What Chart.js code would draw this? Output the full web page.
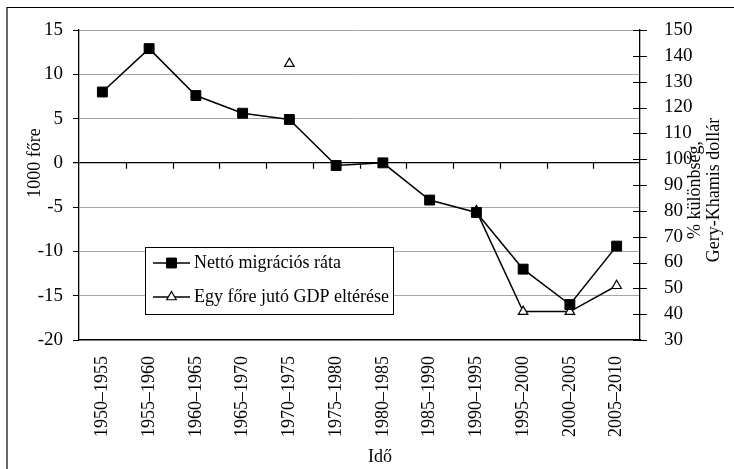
<!DOCTYPE html>
<html>
<head>
<meta charset="utf-8">
<script src="https://cdn.jsdelivr.net/npm/chart.js@4.4.0/dist/chart.umd.min.js"></script>
<style>
  html, body { margin: 0; padding: 0; background: #fff; }
</style>
</head>
<body>
<canvas id="chart" width="734" height="469"></canvas>
<script>
// adatok
const periods = ['1950–1955', '1955–1960', '1960–1965', '1965–1970', '1970–1975', '1975–1980',
                 '1980–1985', '1985–1990', '1990–1995', '1995–2000', '2000–2005', '2005–2010'];
const migration = [8.0, 12.9, 7.6, 5.6, 4.9, -0.3, 0.0, -4.2, -5.6, -12.0, -16.0, -9.4];
const gdpDiff = [null, null, null, null, 137, null, null, null, 80, 41, 41, 51];
const seriesNames = ['Nettó migrációs ráta', 'Egy főre jutó GDP eltérése'];
const leftTitle = '1000 főre';
const rightTitle = ['% különbség,', 'Gery-Khamis dollár'];
const xTitle = 'Idő';

const FONT = '"Liberation Serif", "Times New Roman", serif';

// keret, tengelycímek, jelmagyarázat
const extras = {
    id: 'extras',
    beforeDraw(chart) {
        const ctx = chart.ctx;
        ctx.save();
        ctx.fillStyle = '#fff';
        ctx.fillRect(0, 0, chart.width, chart.height);
        ctx.strokeStyle = '#000';
        ctx.lineWidth = 1.2;
        ctx.beginPath();
        ctx.moveTo(7, chart.height + 5);
        ctx.lineTo(7, 7.5);
        ctx.lineTo(chart.width + 5, 7.5);
        ctx.stroke();
        ctx.restore();
    },
    beforeDatasetsDraw(chart) {
        const ctx = chart.ctx;
        const y = chart.scales.y, y1 = chart.scales.y1;
        const area = chart.chartArea;
        ctx.save();
        ctx.strokeStyle = '#000';
        ctx.lineWidth = 1.2;
        // osztásjelek a nulla vonalon
        const y0 = y.getPixelForValue(0);
        const w = (area.right - area.left) / periods.length;
        ctx.beginPath();
        for (let i = 1; i < periods.length; i++) {
            const px = Math.round(area.left + i * w) + 0.5;
            ctx.moveTo(px, y0);
            ctx.lineTo(px, y0 + 6);
        }
        // jobb tengely osztásjelei (átmennek a tengelyen)
        for (let v = 30; v <= 150; v += 10) {
            const py = Math.round(y1.getPixelForValue(v)) + 0.5;
            ctx.moveTo(area.right - 7, py);
            ctx.lineTo(area.right + 7, py);
        }
        ctx.stroke();
        ctx.restore();
    },
    afterDraw(chart) {
        const ctx = chart.ctx;
        ctx.save();
        ctx.fillStyle = '#000';
        ctx.font = '18px ' + FONT;
        ctx.textAlign = 'center';
        ctx.textBaseline = 'middle';

        // bal cím
        ctx.save();
        ctx.translate(35, 163);
        ctx.rotate(-Math.PI / 2);
        ctx.fillText(leftTitle, 0, 0);
        ctx.restore();

        // jobb cím, két sor
        ctx.save();
        ctx.translate(695, 190);
        ctx.rotate(-Math.PI / 2);
        ctx.fillText(rightTitle[0], 0, 0);
        ctx.fillText(rightTitle[1], 0, 19);
        ctx.restore();

        // x cím
        ctx.fillText(xTitle, 380, 457);

        // jelmagyarázat
        const bx = 145.5, by = 247.5, bw = 248, bh = 67;
        ctx.fillStyle = '#fff';
        ctx.fillRect(bx, by, bw, bh);
        ctx.strokeStyle = '#000';
        ctx.lineWidth = 1;
        ctx.strokeRect(bx, by, bw, bh);

        const rows = [263, 297];
        const mx = 171.5;
        chart.data.datasets.forEach((ds, i) => {
            const ry = rows[i];
            ctx.strokeStyle = '#000';
            ctx.lineWidth = 1.5;
            ctx.beginPath();
            ctx.moveTo(153, ry);
            ctx.lineTo(190, ry);
            ctx.stroke();

            ctx.fillStyle = ds.pointBackgroundColor;
            ctx.lineWidth = ds.pointBorderWidth || 1;
            ctx.beginPath();
            const r = ds.pointRadius;
            if (ds.pointStyle === 'rect') {
                const s = Math.SQRT1_2 * r;
                ctx.rect(mx - s, ry - s, 2 * s, 2 * s);
            } else {
                let rad = 0;
                ctx.moveTo(mx + Math.sin(rad) * r, ry - Math.cos(rad) * r);
                rad += 2 * Math.PI / 3;
                ctx.lineTo(mx + Math.sin(rad) * r, ry - Math.cos(rad) * r);
                rad += 2 * Math.PI / 3;
                ctx.lineTo(mx + Math.sin(rad) * r, ry - Math.cos(rad) * r);
                ctx.closePath();
            }
            ctx.fill();
            ctx.stroke();

            ctx.fillStyle = '#000';
            ctx.textAlign = 'left';
            ctx.fillText(ds.label, 194, ry);
        });
        ctx.restore();
    }
};

const config = {
    type: 'line',
    data: {
        labels: periods,
        datasets: [{
            label: seriesNames[0],
            data: migration,
            yAxisID: 'y',
            borderColor: '#000',
            borderWidth: 1.5,
            pointStyle: 'rect',
            pointRadius: 7,
            pointBackgroundColor: '#000',
            pointBorderColor: '#000',
            pointBorderWidth: 1,
            tension: 0,
            fill: false
        }, {
            label: seriesNames[1],
            data: gdpDiff,
            yAxisID: 'y1',
            borderColor: '#000',
            borderWidth: 1.5,
            pointStyle: 'triangle',
            pointRadius: 5.5,
            pointBackgroundColor: '#fff',
            pointBorderColor: '#000',
            pointBorderWidth: 1.2,
            spanGaps: false,
            tension: 0,
            fill: false
        }]
    },
    options: {
        responsive: false,
        animation: false,
        devicePixelRatio: 1,
        layout: { padding: { top: 30, left: 0, right: 0, bottom: 0 } },
        plugins: {
            legend: { display: false },
            tooltip: { enabled: false }
        },
        scales: {
            x: {
                offset: true,
                grid: { display: false },
                border: { display: true, color: '#000', width: 1.3 },
                ticks: {
                    autoSkip: false,
                    maxRotation: 90,
                    minRotation: 90,
                    padding: 8,
                    color: '#000',
                    font: { family: FONT, size: 18 }
                },
                afterFit(s) { s.height = 129; }
            },
            y: {
                position: 'left',
                min: -20,
                max: 15,
                ticks: {
                    stepSize: 5,
                    padding: 10,
                    color: '#000',
                    font: { family: FONT, size: 19 }
                },
                grid: {
                    color: c => (c.tick && c.tick.value === 0) ? '#000' : '#a6a6a6',
                    lineWidth: c => (c.tick && c.tick.value === 0) ? 1.3 : 1,
                    tickColor: '#000',
                    tickLength: 6
                },
                border: { display: true, color: '#000', width: 1.3 },
                afterFit(s) { s.width = 79; }
            },
            y1: {
                position: 'right',
                min: 30,
                max: 150,
                ticks: {
                    stepSize: 10,
                    padding: 16,
                    color: '#000',
                    font: { family: FONT, size: 19 }
                },
                grid: { display: false },
                border: { display: true, color: '#000', width: 1.3 },
                afterFit(s) { s.width = 94; }
            }
        }
    },
    plugins: [extras]
};

const ctx = document.getElementById('chart').getContext('2d');
window.myChart = new Chart(ctx, config);
</script>
</body>
</html>
